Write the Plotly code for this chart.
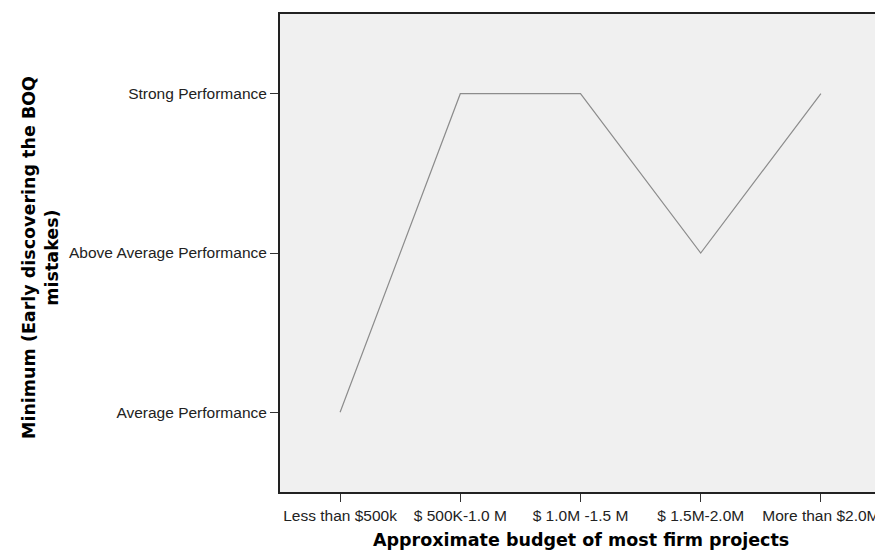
import plotly.graph_objects as go

categories = ["Less than $500k", "$ 500K-1.0 M", "$ 1.0M -1.5 M", "$ 1.5M-2.0M", "More than $2.0M"]
level_labels = ["Average Performance", "Above Average Performance", "Strong Performance"]
level_values = [1, 2, 3]
minimum_values = [1, 3, 3, 2, 3]

fig = go.Figure()
fig.add_trace(go.Scatter(
    x=list(range(len(categories))), y=minimum_values, mode="lines",
    line=dict(color="#8c8c8c", width=1.2), hoverinfo="skip", showlegend=False,
))

# page body adds an 8px margin, so the figure is 8px smaller and offset
fig.update_layout(
    width=875, height=543,
    margin=dict(l=272, r=0, t=6, b=59),
    paper_bgcolor="white", plot_bgcolor="#f0f0f0",
    font=dict(family="Liberation Sans, Arial, sans-serif", size=15.5, color="#222"),
    xaxis=dict(
        range=[-0.5, 4.5], tickmode="array", tickvals=list(range(len(categories))),
        ticktext=categories, ticks="outside", ticklen=8, tickcolor="#333",
        showgrid=False, zeroline=False, showline=True, linecolor="#222", linewidth=2,
        mirror=True, tickfont=dict(size=15.5),
    ),
    yaxis=dict(
        range=[0.5, 3.5], tickmode="array", tickvals=level_values, ticktext=level_labels,
        ticks="outside", ticklen=8, tickcolor="#333",
        showgrid=False, zeroline=False, showline=True, linecolor="#222", linewidth=2,
        mirror=True, tickfont=dict(size=15.5),
    ),
    annotations=[
        dict(text="<b>Approximate budget of most firm projects</b>", xref="paper", yref="paper",
             x=0.5, y=0, yshift=-48, xanchor="center", yanchor="middle", showarrow=False,
             font=dict(family="DejaVu Sans, Verdana, sans-serif", size=17.5, color="black")),
        dict(text="<b>Minimum (Early discovering the BOQ<br>mistakes)</b>", xref="paper", yref="paper",
             x=0, xshift=-240, y=0.5, yshift=-5, xanchor="center", yanchor="middle", showarrow=False,
             textangle=-90, font=dict(family="DejaVu Sans, Verdana, sans-serif", size=17.5, color="black")),
    ],
)

fig.write_html("out.html")
